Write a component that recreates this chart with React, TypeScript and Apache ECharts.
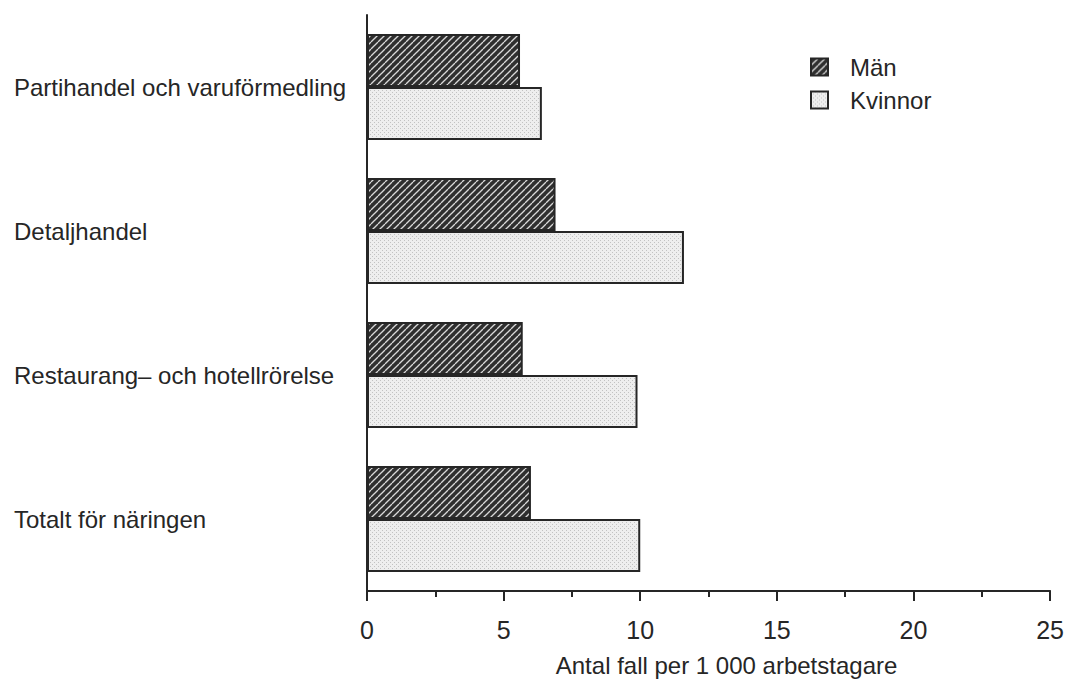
import React, { useEffect, useRef } from "react";
import * as echarts from "echarts";

const categories = [
  "Partihandel och varuförmedling",
  "Detaljhandel",
  "Restaurang– och hotellrörelse",
  "Totalt för näringen",
];
const seriesNames = ["Män", "Kvinnor"];
const menValues = [5.6, 6.9, 5.7, 6.0];
const womenValues = [6.4, 11.6, 9.9, 10.0];
const xTicks = [0, 5, 10, 15, 20, 25];

const FONT = "'Liberation Sans', Arial, Helvetica, sans-serif";
const INK = "#262626";

function hatchPattern(): string {
  const s = 7;
  const c = document.createElement("canvas");
  c.width = s;
  c.height = s;
  const ctx = c.getContext("2d")!;
  ctx.fillStyle = "#2f2f2f";
  ctx.fillRect(0, 0, s, s);
  ctx.strokeStyle = "#d8d8d8";
  ctx.lineWidth = 1.3;
  for (let k = -1; k <= 1; k++) {
    ctx.beginPath();
    ctx.moveTo(k * s, s);
    ctx.lineTo(k * s + s, 0);
    ctx.stroke();
  }
  return c.toDataURL();
}

function dotPattern(): string {
  const s = 4;
  const c = document.createElement("canvas");
  c.width = s;
  c.height = s;
  const ctx = c.getContext("2d")!;
  ctx.fillStyle = "#eeeeee";
  ctx.fillRect(0, 0, s, s);
  ctx.fillStyle = "#c2c2c2";
  ctx.fillRect(0, 0, 1, 1);
  ctx.fillRect(2, 2, 1, 1);
  return c.toDataURL();
}

export default function App() {
  const ref = useRef<HTMLDivElement>(null);

  useEffect(() => {
    if (!ref.current) return;
    const chart = echarts.init(ref.current, undefined, { renderer: "svg" });
    const hatch = { image: hatchPattern(), repeat: "repeat" as const };
    const dots = { image: dotPattern(), repeat: "repeat" as const };

    chart.setOption({
      animation: false,
      backgroundColor: "#ffffff",
      textStyle: { fontFamily: FONT, color: INK },
      legend: {
        orient: "vertical",
        left: 805,
        top: 50,
        itemWidth: 17,
        itemHeight: 17,
        itemGap: 9,
        icon: "rect",
        data: seriesNames,
        textStyle: {
          fontSize: 24,
          lineHeight: 24,
          color: INK,
          fontFamily: FONT,
          padding: [0, 0, 0, 17],
        },
      },
      grid: { left: 367, right: 14, top: 15, bottom: 91, containLabel: false },
      xAxis: {
        type: "value",
        min: xTicks[0],
        max: xTicks[xTicks.length - 1],
        interval: 5,
        name: "Antal fall per 1 000 arbetstagare",
        nameLocation: "middle",
        nameGap: 62,
        nameTextStyle: { fontSize: 24, color: INK, fontFamily: FONT, padding: [0, 0, 0, 36] },
        axisLine: { show: true, lineStyle: { color: INK, width: 2 } },
        axisTick: { show: true, length: 10, lineStyle: { color: INK, width: 2 } },
        minorTick: { show: true, splitNumber: 2, length: 6, lineStyle: { color: INK, width: 2 } },
        splitLine: { show: false },
        axisLabel: { fontSize: 25, color: INK, margin: 26, fontFamily: FONT },
      },
      yAxis: {
        type: "category",
        data: categories,
        inverse: true,
        axisLine: { show: true, lineStyle: { color: INK, width: 2 } },
        axisTick: { show: false },
        axisLabel: {
          fontSize: 24,
          color: INK,
          align: "left",
          margin: 353,
          fontFamily: FONT,
        },
      },
      series: [
        {
          name: seriesNames[0],
          type: "bar",
          data: menValues,
          barWidth: 53,
          barGap: "0%",
          itemStyle: { color: hatch, borderColor: INK, borderWidth: 2 },
        },
        {
          name: seriesNames[1],
          type: "bar",
          data: womenValues,
          barWidth: 53,
          barGap: "0%",
          itemStyle: { color: dots, borderColor: INK, borderWidth: 2 },
        },
      ],
    });
    return () => chart.dispose();
  }, []);

  return <div ref={ref} style={{ width: 1067, height: 682, position: "absolute", left: 0, top: 0 }} />;
}
